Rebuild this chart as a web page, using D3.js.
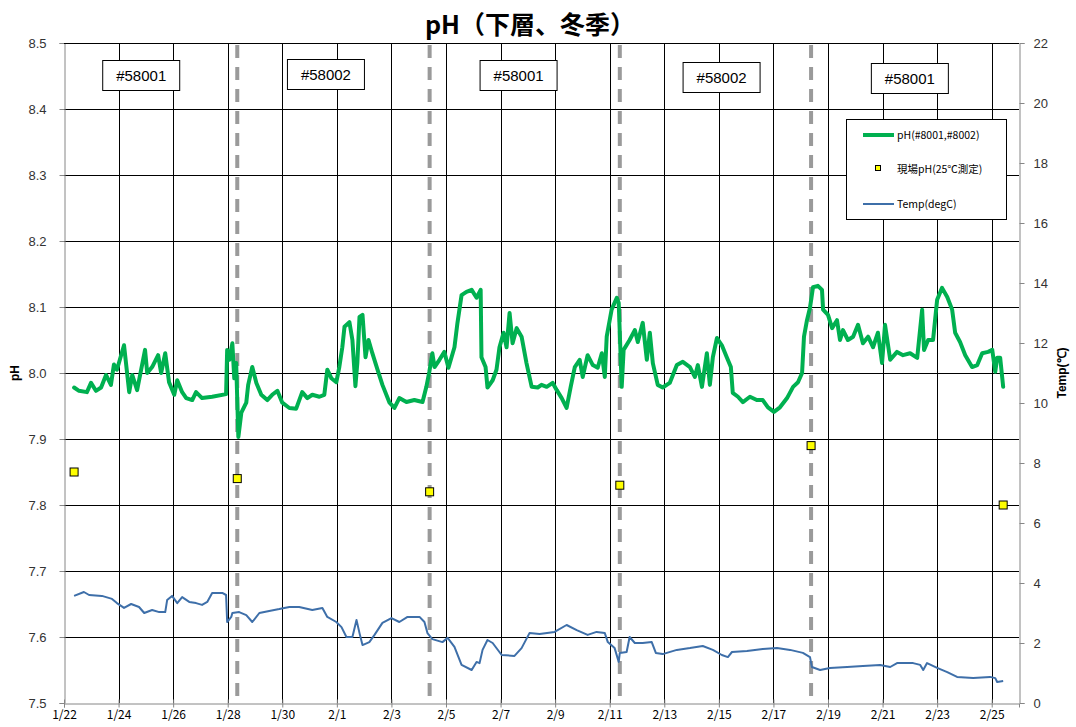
<!DOCTYPE html>
<html>
<head>
<meta charset="utf-8">
<title>pH（下層、冬季）</title>
<style>
body { margin: 0; background: #fff; }
text { font-family: "Liberation Sans", Arial, sans-serif; fill: #000; }
.tick-lbl { font-size: 13px; fill: #333; }
.date-lbl { font-family: "Noto Sans CJK JP", sans-serif; font-size: 12px; }
.grid { stroke: #000; stroke-width: 1px; shape-rendering: crispEdges; }
</style>
</head>
<body>
<script src="https://cdn.jsdelivr.net/npm/d3@7"></script>
<script>

// x values are days since 1/22 00:00
var dateLabels = ["1/22","1/24","1/26","1/28","1/30","2/1","2/3","2/5","2/7","2/9","2/11","2/13","2/15","2/17","2/19","2/21","2/23","2/25"];
var phTicks = [7.5, 7.6, 7.7, 7.8, 7.9, 8.0, 8.1, 8.2, 8.3, 8.4, 8.5];
var tempTicks = [0, 2, 4, 6, 8, 10, 12, 14, 16, 18, 20, 22];

// sensor changes (dashed lines) and field samples
var swapDays = [6.35, 13.4, 20.37, 27.38];
var fieldDays = [0.37, 6.35, 13.4, 20.37, 27.38, 34.42];
var fieldPH = [7.85, 7.84, 7.82, 7.83, 7.89, 7.80];

var stationNames = ["#58001", "#58002", "#58001", "#58002", "#58001"];
var stationDays = [2.83, 9.6, 16.66, 24.1, 31.0];

var phSeries = [
  [0.37,7.978],[0.55,7.973],[0.84,7.971],[0.99,7.985],[1.17,7.973],[1.36,7.978],[1.54,7.997],[1.72,7.982],
  [1.83,8.013],[1.94,8.005],[2.20,8.042],[2.39,7.971],[2.50,7.997],[2.68,7.974],[2.97,8.035],[3.05,8.000],
  [3.23,8.009],[3.45,8.027],[3.56,8.000],[3.71,8.030],[3.85,7.986],[4.04,7.967],[4.15,7.989],[4.33,7.971],
  [4.48,7.962],[4.70,7.959],[4.84,7.971],[5.06,7.962],[5.43,7.964],[5.94,7.968],[5.98,8.035],[6.06,8.020],
  [6.17,8.045],[6.24,7.992],[6.31,8.015],[6.39,7.903],[6.50,7.940],[6.68,7.955],[6.75,7.982],[6.90,8.009],
  [7.05,7.985],[7.23,7.967],[7.45,7.959],[7.63,7.967],[7.82,7.973],[8.00,7.955],[8.26,7.947],[8.51,7.946],
  [8.73,7.971],[8.92,7.962],[9.10,7.967],[9.36,7.964],[9.54,7.967],[9.65,8.005],[9.80,7.992],[9.98,7.986],
  [10.09,8.009],[10.20,8.039],[10.28,8.070],[10.46,8.077],[10.57,8.050],[10.68,7.980],[10.75,8.015],[10.83,8.085],
  [10.94,8.088],[11.05,8.024],[11.16,8.050],[11.30,8.030],[11.49,8.005],[11.67,7.982],[11.93,7.955],[12.11,7.947],
  [12.29,7.962],[12.55,7.956],[12.84,7.959],[13.14,7.956],[13.28,7.979],[13.39,8.002],[13.50,8.030],[13.58,8.009],
  [13.76,8.020],[13.94,8.032],[14.09,8.008],[14.31,8.039],[14.42,8.076],[14.57,8.118],[14.75,8.123],[14.94,8.126],
  [15.12,8.114],[15.27,8.126],[15.30,8.024],[15.45,8.009],[15.52,7.978],[15.71,7.989],[15.85,8.005],[15.96,8.039],
  [16.11,8.061],[16.22,8.039],[16.33,8.091],[16.44,8.045],[16.59,8.068],[16.77,8.055],[16.95,8.015],[17.14,7.979],
  [17.36,7.978],[17.50,7.982],[17.69,7.979],[17.91,7.985],[18.06,7.974],[18.24,7.962],[18.42,7.947],[18.57,7.979],
  [18.72,8.009],[18.90,8.020],[19.01,7.994],[19.19,8.027],[19.38,8.012],[19.56,8.008],[19.71,8.030],[19.82,7.994],
  [19.89,8.055],[20.07,8.096],[20.26,8.114],[20.33,8.106],[20.44,7.979],[20.51,8.035],[20.73,8.050],[20.92,8.065],
  [21.03,8.047],[21.21,8.076],[21.36,8.020],[21.47,8.061],[21.58,8.015],[21.76,7.982],[21.94,7.978],[22.20,7.985],
  [22.46,8.012],[22.68,8.017],[22.94,8.009],[23.12,7.994],[23.23,8.012],[23.38,7.979],[23.56,8.030],[23.67,7.982],
  [23.78,8.024],[23.93,8.053],[24.11,8.042],[24.29,8.024],[24.44,8.009],[24.51,7.970],[24.70,7.964],[24.88,7.956],
  [25.14,7.964],[25.39,7.959],[25.61,7.959],[25.80,7.948],[26.02,7.941],[26.24,7.948],[26.50,7.962],[26.72,7.979],
  [26.90,7.986],[27.05,8.000],[27.12,8.055],[27.23,8.080],[27.34,8.099],[27.45,8.130],[27.63,8.132],[27.78,8.126],
  [27.82,8.096],[28.00,8.088],[28.15,8.068],[28.33,8.080],[28.44,8.050],[28.55,8.065],[28.73,8.050],[28.92,8.055],
  [29.10,8.073],[29.28,8.045],[29.47,8.055],[29.65,8.039],[29.83,8.061],[29.98,8.015],[30.09,8.073],[30.28,8.020],
  [30.53,8.032],[30.75,8.027],[31.01,8.030],[31.27,8.023],[31.45,8.096],[31.52,8.035],[31.67,8.050],[31.85,8.050],
  [32.00,8.111],[32.18,8.129],[32.37,8.115],[32.55,8.096],[32.66,8.061],[32.84,8.047],[33.03,8.027],[33.28,8.009],
  [33.47,8.012],[33.65,8.030],[33.87,8.032],[34.02,8.035],[34.13,8.002],[34.20,8.023],[34.31,8.023],[34.42,7.979]
];

var tempSeries = [
  [0.37,3.57],[0.73,3.70],[0.92,3.60],[1.39,3.57],[1.76,3.47],[1.94,3.33],[2.20,3.17],[2.46,3.30],
  [2.75,3.20],[2.94,3.00],[3.23,3.10],[3.49,3.03],[3.71,3.03],[3.78,3.43],[3.96,3.57],[4.15,3.33],
  [4.33,3.53],[4.59,3.37],[4.84,3.33],[5.06,3.27],[5.25,3.37],[5.43,3.67],[5.80,3.67],[5.94,3.60],
  [5.98,2.70],[6.13,2.87],[6.17,3.00],[6.42,3.03],[6.68,2.93],[6.90,2.70],[7.16,3.00],[7.52,3.07],
  [7.89,3.13],[8.26,3.20],[8.62,3.20],[9.10,3.10],[9.47,3.17],[9.65,2.87],[9.98,2.70],[10.17,2.53],
  [10.35,2.20],[10.57,2.20],[10.72,2.77],[10.83,2.33],[10.94,1.93],[11.19,2.03],[11.38,2.27],[11.67,2.67],
  [12.00,2.83],[12.29,2.70],[12.59,2.87],[13.03,2.87],[13.21,2.70],[13.32,2.33],[13.50,2.13],[13.87,2.03],
  [14.06,2.17],[14.31,1.87],[14.57,1.27],[14.94,1.10],[15.12,1.37],[15.23,1.33],[15.34,1.77],[15.52,2.10],
  [15.71,2.00],[16.04,1.60],[16.51,1.57],[16.77,1.83],[17.06,2.33],[17.43,2.30],[17.98,2.37],[18.42,2.60],
  [18.79,2.43],[19.19,2.27],[19.52,2.37],[19.82,2.33],[19.93,2.03],[20.18,1.83],[20.33,1.37],[20.37,1.67],
  [20.62,1.70],[20.73,2.20],[20.92,2.00],[21.21,2.00],[21.54,2.03],[21.69,1.67],[21.94,1.63],[22.46,1.77],
  [22.94,1.83],[23.41,1.90],[23.78,1.77],[24.11,1.60],[24.33,1.53],[24.48,1.70],[25.03,1.73],[25.61,1.80],
  [26.13,1.83],[26.61,1.77],[27.08,1.67],[27.34,1.53],[27.41,1.20],[27.71,1.10],[28.07,1.17],[28.70,1.20],
  [29.28,1.23],[29.91,1.27],[30.28,1.20],[30.53,1.33],[31.12,1.33],[31.38,1.27],[31.49,1.10],[31.63,1.33],
  [32.00,1.17],[32.37,1.03],[32.73,0.87],[33.32,0.83],[33.94,0.87],[34.13,0.83],[34.20,0.70],[34.42,0.73]
];

var width = 1076, height = 727;
var plotL = 64, plotR = 1019, plotT = 43, plotB = 703;
var green = "#00b050", blue = "#3e6fa9";

var svg = d3.select("body").append("svg")
    .attr("width", width)
    .attr("height", height);

var x = d3.scaleLinear().domain([0, 35]).range([plotL, plotR]);
var yPH = d3.scaleLinear().domain([7.5, 8.5]).range([plotB, plotT]);
var yT = d3.scaleLinear().domain([0, 22]).range([plotB, plotT]);

var dateDays = dateLabels.map(function(d, i) { return i * 2; });

// grid
svg.append("g").selectAll("line")
    .data(phTicks.slice(1))
    .enter().append("line")
    .attr("class", "grid")
    .attr("x1", plotL).attr("x2", plotR)
    .attr("y1", function(d) { return Math.round(yPH(d)) + 0.5; })
    .attr("y2", function(d) { return Math.round(yPH(d)) + 0.5; });

svg.append("g").selectAll("line")
    .data(dateDays.slice(1))
    .enter().append("line")
    .attr("class", "grid")
    .attr("x1", function(d) { return Math.round(x(d)) + 0.5; })
    .attr("x2", function(d) { return Math.round(x(d)) + 0.5; })
    .attr("y1", plotT).attr("y2", plotB);

// sensor swap lines
svg.append("g").selectAll("line")
    .data(swapDays)
    .enter().append("line")
    .attr("x1", function(d) { return x(d); })
    .attr("x2", function(d) { return x(d); })
    .attr("y1", plotT + 2).attr("y2", plotB)
    .style("stroke", "#9a9a9a")
    .style("stroke-width", 4)
    .style("stroke-dasharray", "13,9");

// axes
var leftAxis = d3.axisLeft(yPH).tickValues(phTicks).tickSize(5)
    .tickFormat(d3.format(".1f"));
var gl = svg.append("g").attr("transform", "translate(" + (plotL + 0.5) + ",0)").call(leftAxis);

var rightAxis = d3.axisRight(yT).tickValues(tempTicks).tickSize(5);
var gr = svg.append("g").attr("transform", "translate(" + (plotR + 0.5) + ",0)").call(rightAxis);

var bottomAxis = d3.axisBottom(x).tickValues(dateDays).tickSize(4)
    .tickFormat(function(d, i) { return dateLabels[i]; });
var gb = svg.append("g").attr("transform", "translate(0," + (plotB + 0.5) + ")").call(bottomAxis);

[gl, gr, gb].forEach(function(g) {
  g.select(".domain").attr("stroke", "#868686");
  g.selectAll(".tick line").attr("stroke", "#868686");
});
gl.selectAll("text").attr("class", "tick-lbl").attr("x", -18);
gr.selectAll("text").attr("class", "tick-lbl").attr("x", 14);
gb.selectAll("text").attr("class", "date-lbl").attr("y", 7);
gb.selectAll(".tick line").attr("y1", -4);

// top border
svg.append("line").attr("class", "grid")
    .attr("x1", plotL).attr("x2", plotR)
    .attr("y1", plotT + 0.5).attr("y2", plotT + 0.5);

// temperature line
svg.append("path")
    .datum(tempSeries)
    .attr("fill", "none")
    .attr("stroke", blue)
    .attr("stroke-width", 2)
    .attr("stroke-linejoin", "round")
    .attr("d", d3.line().x(function(d) { return x(d[0]); }).y(function(d) { return yT(d[1]); }));

// pH line
svg.append("path")
    .datum(phSeries)
    .attr("fill", "none")
    .attr("stroke", green)
    .attr("stroke-width", 4)
    .attr("stroke-linejoin", "round")
    .attr("stroke-linecap", "round")
    .attr("d", d3.line().x(function(d) { return x(d[0]); }).y(function(d) { return yPH(d[1]); }));

// field pH markers
svg.append("g").selectAll("rect")
    .data(fieldDays)
    .enter().append("rect")
    .attr("x", function(d) { return x(d) - 4; })
    .attr("y", function(d, i) { return yPH(fieldPH[i]) - 4; })
    .attr("width", 8).attr("height", 8)
    .attr("fill", "#ffff00")
    .attr("stroke", "#000")
    .attr("stroke-width", 1);

// station labels
var st = svg.append("g").selectAll("g")
    .data(stationNames)
    .enter().append("g")
    .attr("transform", function(d, i) { return "translate(" + x(stationDays[i]) + "," + (59 + [1, 0, 1, 3, 4][i]) + ")"; });
st.append("rect")
    .attr("x", -38.5).attr("y", 0.5)
    .attr("width", 77).attr("height", 30)
    .attr("fill", "#fff").attr("stroke", "#000");
st.append("text")
    .attr("x", 0).attr("y", 21)
    .attr("text-anchor", "middle")
    .style("font-size", "15px")
    .text(function(d) { return d; });

// legend
var lg = svg.append("g").attr("transform", "translate(846,119)");
lg.append("rect").attr("x", 0.5).attr("y", 0.5).attr("width", 160).attr("height", 100)
    .attr("fill", "#fff").attr("stroke", "#000");
lg.append("line").attr("x1", 17).attr("x2", 48).attr("y1", 16).attr("y2", 16)
    .attr("stroke", green).attr("stroke-width", 4);
lg.append("rect").attr("x", 29.5).attr("y", 46.5).attr("width", 5).attr("height", 5)
    .attr("fill", "#ffff00").attr("stroke", "#000");
lg.append("line").attr("x1", 17).attr("x2", 48).attr("y1", 85).attr("y2", 85)
    .attr("stroke", blue).attr("stroke-width", 2);
var legendText = ["pH(#8001,#8002)", "現場pH(25℃測定)", "Temp(degC)"];
lg.selectAll("text.lt")
    .data(legendText)
    .enter().append("text")
    .attr("class", "lt")
    .attr("x", 51)
    .attr("y", function(d, i) { return [20, 54, 89][i]; })
    .style("font-family", "'Noto Sans CJK JP', sans-serif")
    .style("font-size", "10.5px")
    .text(function(d) { return d; });

// title and axis titles
svg.append("text")
    .attr("x", 530).attr("y", 34)
    .attr("text-anchor", "middle")
    .style("font-family", "'Noto Sans CJK JP', sans-serif")
    .style("font-weight", "bold")
    .style("font-size", "25px")
    .text("pH（下層、冬季）");

svg.append("text")
    .attr("transform", "translate(19,373) rotate(-90)")
    .attr("text-anchor", "middle")
    .style("font-weight", "bold")
    .style("font-size", "12px")
    .text("pH");

svg.append("text")
    .attr("transform", "translate(1066,373) rotate(-90)")
    .attr("text-anchor", "middle")
    .style("font-weight", "bold")
    .style("font-size", "12px")
    .text("Temp(℃)");

</script>
</body>
</html>
